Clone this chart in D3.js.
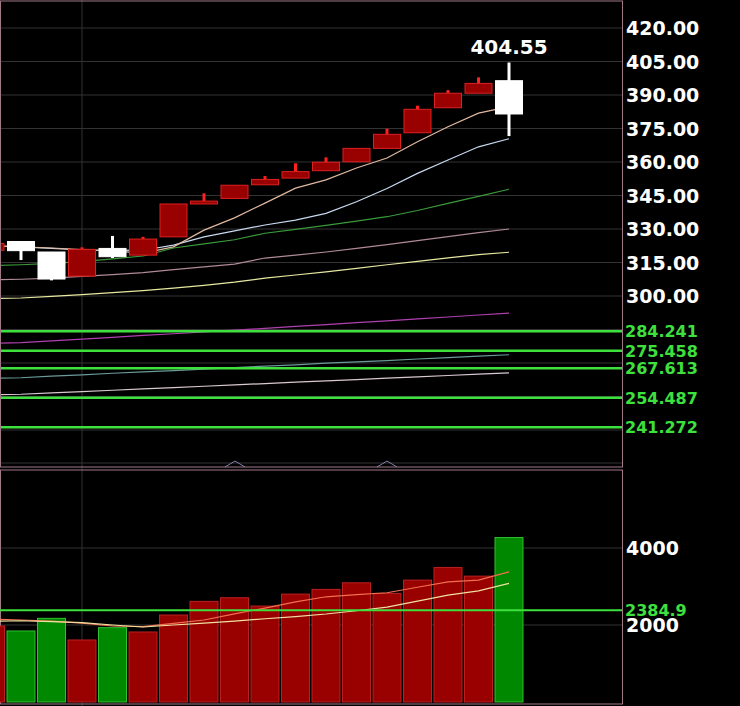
<!DOCTYPE html><html><head><meta charset="utf-8"><script src="https://cdn.jsdelivr.net/npm/d3@7/dist/d3.min.js"></script>
<style>body{margin:0;background:#000}svg{display:block}</style></head><body><svg id="c" width="740" height="706"></svg><script>
const idx=[-1,0,1,2,3,4,5,6,7,8,9,10,11,12,13,14,15,16];
const opens =[320.5,324.4,319.7,308.9,321.3,318.3,326.5,341.2,343.7,349.8,352.8,356.1,360.1,366.1,373.1,384.3,390.8,396.4];
const closes=[323.5,320.3,307.6,320.9,317.6,325.5,341.2,342.5,349.6,352.2,355.7,359.9,366.1,372.4,383.6,390.8,395.2,381.5];
const highs =[324.5,324.5,319.7,321.8,326.9,326.5,341.2,346.0,349.6,353.7,359.4,362.1,366.1,374.9,385.2,392.2,397.9,404.55];
const lows  =[320.5,316.1,307.0,308.9,317.0,318.3,326.5,341.2,343.7,349.8,352.8,356.1,360.1,366.1,373.1,384.3,390.8,371.6];
const ma5 =[322.5,322,321.5,320.8,320.2,319.2,322,329.5,335,341.6,348.3,352,357.3,361.8,369.1,375.8,381.9,384.8];
const ma10=[322.5,322,321.3,320.6,320.4,320.5,322.8,326.5,329.2,331.8,334,337,342.2,348.1,354.9,360.9,366.8,370.4];
const ma20=[313.6,314,314.6,315.4,316.6,317.9,321.5,323.3,325.2,328.1,329.8,331.6,333.5,335.5,338.3,341.5,344.6,347.8];
const ma30=[307.2,307.5,308,308.8,309.6,310.5,311.8,313,314.3,317,318.3,319.7,321.3,323,324.8,326.6,328.4,330];
const ma60=[298.8,299.1,299.8,300.6,301.5,302.4,303.5,304.8,306.2,308,309.4,310.8,312.4,314,315.5,317.1,318.5,319.6];
const ma120=[278.8,279.1,279.9,280.7,281.5,282.4,283.1,283.9,284.7,285.5,286.4,287.2,288.1,288.9,289.8,290.6,291.5,292.3];
const ma250=[263.2,263.4,264.1,264.7,265.4,266,266.6,267.3,267.9,268.6,269.2,269.9,270.5,271.1,271.8,272.4,273.1,273.7];
const ma500=[255.8,256,256.6,257.2,257.8,258.4,259,259.6,260.2,260.8,261.4,262,262.6,263.2,263.8,264.4,265,265.6];
const levels=[284.241,275.458,267.613,254.487,241.272];
const priceTicks=[420,405,390,375,360,345,330,315,300];
const vols=[1974,1845,2173,1611,1930,1819,2259,2614,2708,2492,2803,2925,3096,2821,3166,3495,3269,4272];
const vma5=[2150,2130,2100,2050,1974,1957,2040,2130,2290,2440,2600,2733,2790,2837,2980,3122,3166,3381];
const vma10=[2100,2110,2090,2060,2000,1948,2000,2050,2100,2162,2220,2285,2370,2466,2620,2777,2888,3080];
const volLevel=2384.9;
const volTicks=[4000,2000];

const svg=d3.select("#c");
const x=d3.scaleLinear().domain([0,16]).range([21,509]);
const y=d3.scaleLinear().domain([300,420]).range([296,28]);
const yv=d3.scaleLinear().domain([0,4000]).range([702,548]);
const W=622,cw=27;
// grid
const g=svg.append("g");
g.selectAll(".gp").data(d3.range(240,421,15)).join("line").attr("x1",0).attr("x2",W).attr("y1",d=>y(d)).attr("y2",d=>y(d)).attr("stroke","#333");
g.append("line").attr("x1",0).attr("x2",W).attr("y1",463).attr("y2",463).attr("stroke","#333");
g.selectAll(".gv").data(volTicks).join("line").attr("x1",0).attr("x2",W).attr("y1",d=>yv(d)).attr("y2",d=>yv(d)).attr("stroke","#333");
g.append("line").attr("x1",82).attr("x2",82).attr("y1",0).attr("y2",706).attr("stroke","#333");
// MAs
const line=(arr,ys)=>d3.line().x((d,i)=>x(idx[i])).y(d=>ys(d))(arr);
[[ma500,"#d8c8d0"],[ma250,"#6a9a9a"],[ma120,"#b040b0"],[ma60,"#e8e8a0"],[ma30,"#b08a98"],[ma20,"#3a9a3a"],[ma10,"#c8d8f0"],[ma5,"#e0b8a0"]].forEach(([a,c])=>{
 svg.append("path").attr("d",line(a,y)).attr("fill","none").attr("stroke",c).attr("stroke-width",1.2);});
// levels
svg.selectAll(".lv").data(levels).join("line").attr("x1",0).attr("x2",W).attr("y1",d=>y(d)).attr("y2",d=>y(d)).attr("stroke","#3ee03e").attr("stroke-width",2.5);
svg.selectAll(".lvt").data(levels).join("text").attr("x",625).attr("y",d=>y(d)+6).text(d=>d.toFixed(3)).attr("fill","#3ee03e").attr("font-family","DejaVu Sans").attr("font-weight","bold").attr("font-size",16);
// candles
idx.forEach((k,i)=>{
 const up=closes[i]>=opens[i];const c=up?"#ff2020":"#ffffff";const f=up?"#990000":"#ffffff";
 svg.append("line").attr("x1",x(k)).attr("x2",x(k)).attr("y1",y(highs[i])).attr("y2",y(lows[i])).attr("stroke",c).attr("stroke-width",3);
 const t=y(Math.max(opens[i],closes[i])),b=y(Math.min(opens[i],closes[i]));
 svg.append("rect").attr("x",x(k)-cw/2).attr("y",t).attr("width",cw).attr("height",Math.max(1,b-t)).attr("fill",f).attr("stroke",up?"#dd2020":"#fff");
});
svg.append("text").attr("x",x(16)).attr("y",y(404.55)-9).attr("text-anchor","middle").text("404.55").attr("fill","#fff").attr("font-family","DejaVu Sans").attr("font-weight","bold").attr("font-size",20);
// price axis labels
svg.selectAll(".pt").data(priceTicks).join("text").attr("x",626).attr("y",d=>y(d)+7).text(d=>d.toFixed(2)).attr("fill","#fff").attr("font-family","DejaVu Sans").attr("font-weight","bold").attr("font-size",19);
// triangles
[235,387].forEach(px=>svg.append("path").attr("d",`M${px-10},467L${px},461L${px+10},467`).attr("fill","none").attr("stroke","#8080b0"));
// borders
svg.append("rect").attr("x",0.5).attr("y",1).attr("width",W).attr("height",466).attr("fill","none").attr("stroke","#a07888");
svg.append("rect").attr("x",0.5).attr("y",470).attr("width",W).attr("height",234).attr("fill","none").attr("stroke","#a07888");
// volume
idx.forEach((k,i)=>{const up=closes[i]>=opens[i];
 svg.append("rect").attr("x",x(k)-14).attr("y",yv(vols[i])).attr("width",28).attr("height",yv(0)-yv(vols[i])).attr("fill",up?"#990000":"#008800").attr("stroke",up?"#bb2020":"#30c030");});
svg.append("path").attr("d",line(vma5,yv)).attr("fill","none").attr("stroke","#f07050").attr("stroke-width",1.2);
svg.append("path").attr("d",line(vma10,yv)).attr("fill","none").attr("stroke","#f0e0a0").attr("stroke-width",1.2);
svg.selectAll(".vt").data(volTicks).join("text").attr("x",626).attr("y",d=>yv(d)+7).text(d=>d).attr("fill","#fff").attr("font-family","DejaVu Sans").attr("font-weight","bold").attr("font-size",19);
svg.append("line").attr("x1",0).attr("x2",W).attr("y1",yv(volLevel)).attr("y2",yv(volLevel)).attr("stroke","#3ee03e").attr("stroke-width",2);
svg.append("text").attr("x",625).attr("y",yv(volLevel)+6).text(volLevel).attr("fill","#3ee03e").attr("font-family","DejaVu Sans").attr("font-weight","bold").attr("font-size",16);
</script></body></html>
